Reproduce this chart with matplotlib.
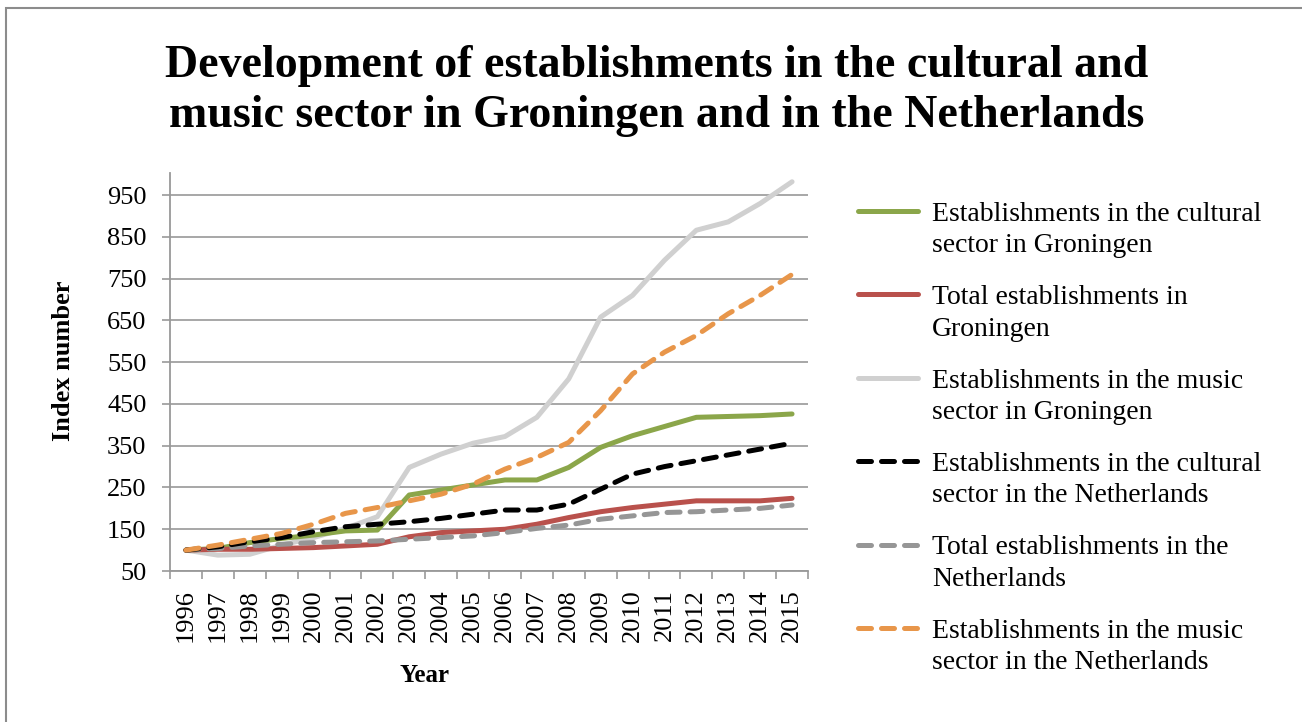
import matplotlib
matplotlib.use("Agg")
import matplotlib.pyplot as plt
from matplotlib.lines import Line2D
from matplotlib.patches import Rectangle

years = [str(y) for y in range(1996, 2016)]

cult_gron = [100, 104, 118, 128, 136, 146, 148, 232, 244, 256,
             268, 268, 298, 346, 374, 396, 418, 420, 422, 426]
total_gron = [100, 102, 102, 104, 106, 110, 114, 132, 142, 146,
              150, 162, 178, 192, 202, 210, 218, 218, 218, 224]
music_gron = [100, 88, 90, 112, 130, 152, 180, 298, 330, 356,
              372, 418, 510, 658, 710, 794, 866, 886, 930, 982]
cult_nl = [100, 108, 120, 130, 144, 156, 162, 168, 176, 186,
           196, 196, 210, 246, 282, 300, 314, 328, 342, 356]
total_nl = [100, 104, 110, 114, 118, 120, 122, 126, 130, 134,
            142, 152, 160, 174, 182, 190, 192, 196, 200, 208]
music_nl = [100, 112, 126, 140, 162, 188, 202, 218, 234, 258,
            294, 322, 358, 434, 522, 574, 614, 666, 710, 760]

labels = ["Establishments in the cultural\nsector in Groningen",
          "Total establishments in\nGroningen",
          "Establishments in the music\nsector in Groningen",
          "Establishments in the cultural\nsector in the Netherlands",
          "Total establishments in the\nNetherlands",
          "Establishments in the music\nsector in the Netherlands"]
series = [cult_gron, total_gron, music_gron, cult_nl, total_nl, music_nl]
colors = ["#8ba64a", "#b9514c", "#d0d0d0", "#000000", "#969696", "#e8964a"]
styles = ["-", "-", "-", "--", "--", "--"]

plt.rcParams["font.family"] = ["Liberation Serif", "DejaVu Serif"]

W, H = 1302, 722
fig = plt.figure(figsize=(W / 100, H / 100), dpi=100)
ax = fig.add_axes([170 / W, 1 - 571 / H, 638 / W, 398 / H])


def line_kw(i):
    kw = dict(color=colors[i], lw=3.6, solid_capstyle="round")
    if styles[i] == "--":
        kw.update(dashes=(2.6, 2.0), dash_capstyle="round")
    return kw


# draw order: keep dashed ones over solid ones like in the original
order = [2, 0, 1, 4, 3, 5]
x = list(range(len(years)))
for i in order:
    ax.plot(x, series[i], **line_kw(i))

ax.set_xlim(-0.5, len(years) - 0.5)
ax.set_ylim(50, 1003)
ax.set_yticks(range(50, 1000, 100))
ax.tick_params(axis="y", labelsize=19, length=6, width=1.2, color="#999999", pad=11)
ax.set_xticks(x)
ax.set_xticklabels(years, rotation=90, fontsize=19)
ax.set_xticks([i + 0.5 for i in range(-1, len(years))], minor=True)
ax.tick_params(axis="x", which="major", length=0, pad=13)
ax.tick_params(axis="x", which="minor", length=6, width=1.2, color="#999999")
ax.grid(axis="y", color="#a0a0a0", lw=1.3)
ax.set_axisbelow(True)
for s in ["top", "right"]:
    ax.spines[s].set_visible(False)
for s in ["left", "bottom"]:
    ax.spines[s].set_color("#999999")
    ax.spines[s].set_linewidth(1.3)

fig.text(63 / W, 1 - 361 / H, "Index number", rotation=90, fontsize=19,
         fontweight="bold", ha="center", va="center")
fig.text(425 / W, 1 - 676 / H, "Year", fontsize=18, fontweight="bold",
         ha="center", va="center")

fig.text(657 / W, 1 - 91 / H,
         "Development of establishments in the cultural and\n"
         "music sector in Groningen and in the Netherlands",
         fontsize=33, fontweight="bold", ha="center", va="center", linespacing=1.25)

# legend drawn by hand so the key sits on the first text line
for i in range(len(series)):
    yy = 1 - (211 + 83.4 * i) / H
    fig.add_artist(Line2D([858 / W, 918 / W], [yy, yy], transform=fig.transFigure, **line_kw(i)))
    fig.text(932 / W, 1 - (230 + 83.4 * i) / H, labels[i], fontsize=20,
             ha="left", va="center", linespacing=1.34)

fig.add_artist(Rectangle((6 / W, -0.1), 1.2, 1 - 8 / H + 0.1, transform=fig.transFigure,
                         fill=False, edgecolor="#8c8c8c", lw=1.5))

fig.savefig("out.png", dpi=100)
